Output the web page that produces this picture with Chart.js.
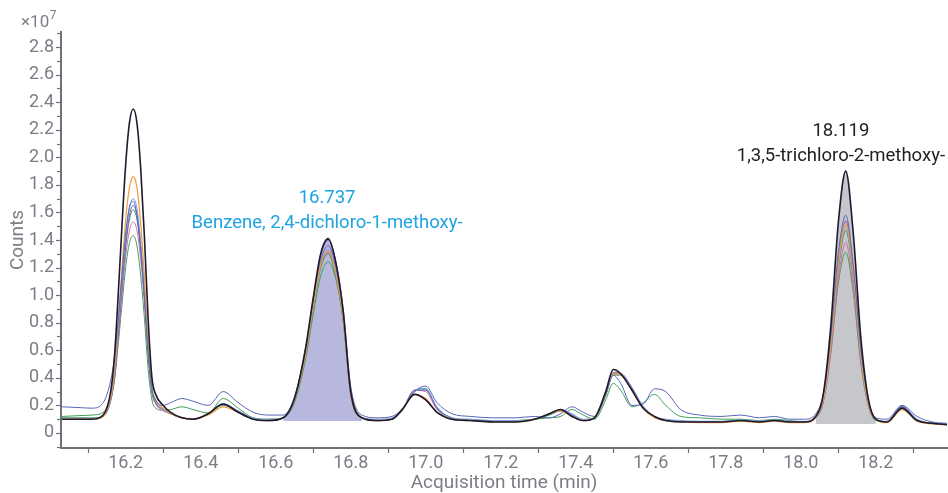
<!DOCTYPE html>
<html><head><meta charset="utf-8">
<script src="https://cdn.jsdelivr.net/npm/chart.js@4"></script>
<style>html,body{margin:0;padding:0;background:#fff}canvas{display:block}</style>
</head><body>
<canvas id="c" width="948" height="493"></canvas>
<script>
const times = [16.03,16.07,16.11,16.14,16.16,16.17,16.18,16.19,16.20,16.21,16.22,16.23,16.24,16.25,16.26,16.27,16.28,16.30,16.32,16.35,16.38,16.42,16.46,16.50,16.54,16.58,16.62,16.65,16.68,16.70,16.72,16.74,16.76,16.78,16.80,16.83,16.87,16.91,16.94,16.97,17.00,17.03,17.07,17.12,17.18,17.24,17.29,17.33,17.36,17.39,17.42,17.45,17.48,17.50,17.52,17.55,17.58,17.61,17.64,17.68,17.73,17.79,17.84,17.89,17.93,17.97,18.01,18.04,18.06,18.08,18.10,18.12,18.14,18.16,18.18,18.20,18.23,18.27,18.31,18.35,18.39];

const black = [0.10,0.10,0.10,0.13,0.30,0.55,1.00,1.50,1.95,2.25, 2.35,2.25,1.92,1.42,0.82,0.40,0.28,0.20,0.15,0.11, 0.10,0.14,0.21,0.15,0.10,0.09,0.11,0.25,0.62,0.98, 1.30,1.41,1.24,0.88,0.30,0.11,0.09,0.10,0.18,0.28, 0.24,0.15,0.10,0.09,0.08,0.08,0.10,0.14,0.17,0.12, 0.09,0.11,0.30,0.46,0.43,0.31,0.18,0.12,0.09,0.08, 0.08,0.08,0.09,0.08,0.09,0.08,0.08,0.12,0.28,0.77, 1.52,1.90,1.45,0.70,0.25,0.10,0.08,0.18,0.09,0.07,0.06];
const orange = [0.10,0.10,0.10,0.12,0.26,0.45,0.80,1.19,1.55,1.78, 1.86,1.78,1.52,1.13,0.66,0.33,0.24,0.18,0.14,0.11, 0.10,0.13,0.19,0.15,0.10,0.09,0.11,0.24,0.58,0.92, 1.22,1.32,1.16,0.83,0.28,0.11,0.09,0.10,0.18,0.28, 0.25,0.15,0.10,0.09,0.08,0.08,0.10,0.14,0.16,0.12, 0.09,0.11,0.28,0.43,0.42,0.31,0.18,0.11,0.09,0.08, 0.075,0.075,0.085,0.075,0.085,0.075,0.075,0.11,0.24,0.63, 1.22,1.52,1.16,0.57,0.21,0.10,0.075,0.17,0.085,0.065,0.06];
const slateBlue = [0.19,0.185,0.18,0.22,0.38,0.55,0.82,1.15,1.45,1.64, 1.68,1.58,1.33,0.98,0.58,0.32,0.24,0.20,0.22,0.25, 0.23,0.20,0.30,0.22,0.15,0.13,0.13,0.26,0.62,0.97, 1.29,1.40,1.25,0.90,0.34,0.13,0.11,0.12,0.18,0.30, 0.34,0.22,0.14,0.12,0.11,0.11,0.12,0.11,0.14,0.19, 0.15,0.12,0.28,0.42,0.36,0.20,0.21,0.32,0.30,0.17, 0.13,0.12,0.13,0.11,0.12,0.10,0.10,0.14,0.28,0.70, 1.30,1.58,1.22,0.62,0.24,0.11,0.10,0.20,0.12,0.08,0.07];
const lightBlue = [0.10,0.10,0.10,0.12,0.24,0.42,0.74,1.10,1.42,1.63, 1.70,1.63,1.39,1.04,0.61,0.31,0.23,0.17,0.14,0.11, 0.10,0.14,0.21,0.16,0.11,0.10,0.11,0.24,0.59,0.93, 1.23,1.33,1.17,0.83,0.29,0.11,0.10,0.11,0.18,0.30, 0.32,0.19,0.11,0.10,0.09,0.09,0.10,0.14,0.17,0.14, 0.10,0.11,0.28,0.43,0.43,0.33,0.19,0.12,0.10,0.09, 0.085,0.085,0.095,0.085,0.095,0.085,0.085,0.11,0.24,0.62, 1.20,1.50,1.15,0.56,0.21,0.10,0.085,0.20,0.10,0.07,0.065];
const purple = [0.10,0.10,0.10,0.12,0.24,0.41,0.72,1.06,1.37,1.58, 1.65,1.58,1.35,1.01,0.60,0.31,0.22,0.17,0.14,0.11, 0.10,0.14,0.21,0.16,0.10,0.09,0.11,0.24,0.60,0.95, 1.25,1.36,1.20,0.85,0.29,0.11,0.09,0.10,0.18,0.31, 0.31,0.18,0.11,0.09,0.085,0.085,0.10,0.14,0.17,0.13, 0.09,0.11,0.28,0.44,0.43,0.32,0.19,0.12,0.09,0.085, 0.08,0.08,0.09,0.08,0.09,0.08,0.08,0.11,0.24,0.63, 1.23,1.54,1.18,0.58,0.22,0.10,0.08,0.19,0.095,0.07,0.06];
const teal = [0.11,0.11,0.11,0.12,0.24,0.40,0.71,1.05,1.35,1.55, 1.62,1.55,1.33,0.99,0.59,0.30,0.22,0.17,0.14,0.11, 0.10,0.14,0.20,0.15,0.10,0.09,0.11,0.24,0.58,0.91, 1.20,1.30,1.14,0.81,0.28,0.11,0.09,0.10,0.18,0.30, 0.32,0.18,0.10,0.09,0.085,0.085,0.10,0.13,0.16,0.13, 0.09,0.11,0.27,0.42,0.42,0.32,0.19,0.12,0.09,0.085, 0.08,0.08,0.09,0.08,0.09,0.08,0.08,0.11,0.23,0.61, 1.18,1.47,1.13,0.55,0.21,0.10,0.08,0.19,0.095,0.07,0.06];
const pink = [0.10,0.10,0.10,0.12,0.23,0.39,0.67,0.99,1.28,1.47, 1.53,1.47,1.26,0.94,0.56,0.29,0.21,0.16,0.14,0.11, 0.10,0.14,0.21,0.15,0.10,0.09,0.11,0.24,0.58,0.91, 1.21,1.31,1.15,0.82,0.28,0.11,0.09,0.10,0.18,0.31, 0.30,0.17,0.10,0.09,0.085,0.085,0.10,0.14,0.17,0.13, 0.09,0.11,0.28,0.43,0.43,0.33,0.19,0.12,0.09,0.085, 0.08,0.08,0.09,0.08,0.09,0.08,0.08,0.11,0.22,0.57, 1.11,1.38,1.06,0.52,0.20,0.10,0.08,0.19,0.095,0.07,0.06];
const green = [0.12,0.125,0.13,0.15,0.25,0.38,0.64,0.93,1.20,1.38, 1.43,1.36,1.14,0.83,0.46,0.24,0.18,0.165,0.17,0.19, 0.17,0.145,0.25,0.18,0.11,0.10,0.11,0.22,0.54,0.86, 1.14,1.24,1.12,0.82,0.32,0.11,0.09,0.10,0.17,0.31, 0.32,0.18,0.11,0.09,0.08,0.09,0.10,0.11,0.12,0.17, 0.13,0.10,0.24,0.36,0.31,0.19,0.22,0.28,0.20,0.12, 0.11,0.10,0.10,0.09,0.10,0.09,0.08,0.11,0.23,0.58, 1.08,1.31,1.02,0.51,0.20,0.09,0.08,0.19,0.10,0.07,0.065];

// integrated peak windows (min), their baselines (counts x1e7)
const windowStart = [16.60, 18.03];
const windowEnd = [16.84, 18.21];
const windowBase = [0.087, 0.065];

// peak annotations
const peakRT = [16.737, 18.119];
const peakApex = [1.41, 1.90];
const peakRTText = ['16.737', '18.119'];
const peakName = ['Benzene, 2,4-dichloro-1-methoxy-', '1,3,5-trichloro-2-methoxy-'];

const xTickStep = 0.2;
const yTickStep = 0.2;

const traces = [
  {d: black, c: '#1d1a2f', w: 1.6},
  {d: slateBlue, c: '#5865b8', w: 1},
  {d: orange, c: '#f29a38', w: 1.2},
  {d: lightBlue, c: '#6f9ee6', w: 1},
  {d: purple, c: '#7a5cae', w: 1},
  {d: teal, c: '#2f8f72', w: 1},
  {d: pink, c: '#d16bb0', w: 1},
  {d: green, c: '#3f9e57', w: 1}
];
const fillColors = ['rgba(172,172,216,0.85)', 'rgba(192,193,196,0.9)'];
const labelColors = ['#1ea3e3', '#1f1f22'];

const pts = arr => times.map((t, i) => ({x: t, y: arr[i]}));

const datasets = traces.map(tr => ({
  data: pts(tr.d), borderColor: tr.c, borderWidth: tr.w, pointRadius: 0,
  cubicInterpolationMode: 'monotone', fill: false
}));
windowStart.forEach((s, k) => {
  const d = times.map((t, i) => ({x: t, y: black[i]})).filter(p => p.x >= windowStart[k] && p.x <= windowEnd[k]);
  datasets.push({
    data: d, borderWidth: 0, borderColor: 'rgba(0,0,0,0)', backgroundColor: fillColors[k],
    pointRadius: 0, cubicInterpolationMode: 'monotone', fill: {value: windowBase[k]}
  });
});

const GRAY = '#7b7e86';
const AXIS = '#6e7179';
const FONT = 'Roboto, "Liberation Sans", sans-serif';

const decor = {
  id: 'decor',
  afterDraw(chart) {
    const {ctx, chartArea: a, scales: {x, y}} = chart;
    ctx.save();
    // y ticks every 0.1
    ctx.strokeStyle = AXIS; ctx.lineWidth = 1.2;
    for (let k = Math.ceil(y.min * 10); k <= Math.floor(y.max * 10); k++) {
      const py = Math.round(y.getPixelForValue(k / 10)) + 0.5;
      const len = (k % 2 === 0) ? 4 : 3;
      ctx.beginPath(); ctx.moveTo(a.left - 1 - len, py); ctx.lineTo(a.left - 1, py); ctx.stroke();
    }
    // x minor ticks at odd tenths
    for (let k = Math.ceil(x.min * 10); k <= Math.floor(x.max * 10); k++) {
      if (k % 2 === 0) continue;
      const px = Math.round(x.getPixelForValue(k / 10)) + 0.5;
      ctx.beginPath(); ctx.moveTo(px, a.bottom + 1); ctx.lineTo(px, a.bottom + 5); ctx.stroke();
    }
    // axis titles
    ctx.fillStyle = GRAY;
    ctx.font = '19px ' + FONT;
    ctx.textAlign = 'center'; ctx.textBaseline = 'middle';
    ctx.fillText('Acquisition time (min)', (a.left + a.right) / 2, 483);
    ctx.save();
    ctx.translate(18, (a.top + a.bottom) / 2);
    ctx.rotate(-Math.PI / 2);
    ctx.fillText('Counts', 0, 0);
    ctx.restore();
    // exponent
    ctx.textAlign = 'left'; ctx.textBaseline = 'alphabetic';
    ctx.font = '17px ' + FONT;
    ctx.fillText('\u00d710', 21, 27);
    const w = ctx.measureText('\u00d710').width;
    ctx.font = '12px ' + FONT;
    ctx.fillText('7', 21 + w + 0.5, 19);
    // peak labels (kept inside the canvas)
    ctx.font = '18.5px ' + FONT;
    ctx.textAlign = 'center'; ctx.textBaseline = 'middle';
    peakRT.forEach((rt, k) => {
      let px = x.getPixelForValue(rt);
      const py = y.getPixelForValue(peakApex[k]);
      const half = Math.max(ctx.measureText(peakName[k]).width, ctx.measureText(peakRTText[k]).width) / 2;
      px = Math.min(px, chart.width - 3 - half);
      ctx.fillStyle = labelColors[k];
      ctx.fillText(peakRTText[k], px, py - 40);
      ctx.fillText(peakName[k], px, py - 15);
    });
    ctx.restore();
  }
};

new Chart(document.getElementById('c'), {
  type: 'line',
  data: {datasets},
  options: {
    responsive: false, animation: false, devicePixelRatio: 1,
    layout: {padding: {left: 0, top: 32, right: 1, bottom: 0}},
    plugins: {legend: {display: false}, tooltip: {enabled: false}, filler: {drawTime: 'beforeDatasetsDraw'}},
    scales: {
      x: {
        type: 'linear', min: 16.0275, max: 18.39,
        grid: {display: false, drawTicks: false},
        border: {display: true, color: AXIS, width: 2},
        ticks: {stepSize: xTickStep, includeBounds: false, autoSkip: false, maxRotation: 0,
          color: GRAY, font: {size: 18, family: FONT}, padding: 5,
          callback: v => v.toFixed(1)},
        afterFit: s => { s.height = 45; }
      },
      y: {
        type: 'linear', min: -0.109, max: 2.909,
        grid: {display: false, drawTicks: false},
        border: {display: true, color: AXIS, width: 2},
        ticks: {stepSize: yTickStep, includeBounds: false, autoSkip: false,
          color: GRAY, font: {size: 18, family: FONT}, padding: 7,
          callback: v => Math.abs(v) < 1e-9 ? '0' : v.toFixed(1)},
        afterFit: s => { s.width = 61; }
      }
    }
  },
  plugins: [decor]
});
</script>
</body></html>
